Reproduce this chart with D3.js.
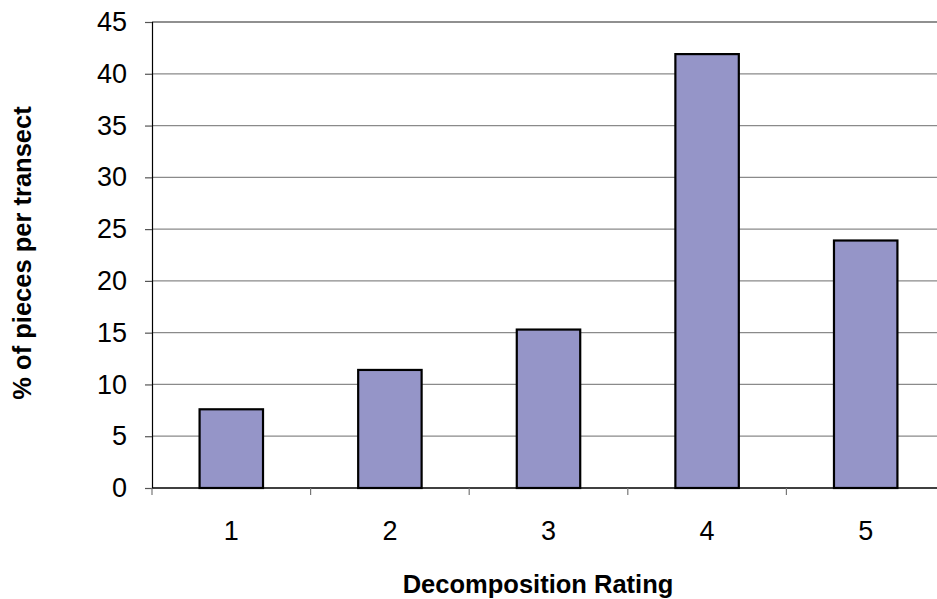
<!DOCTYPE html>
<html>
<head>
<meta charset="utf-8">
<script src="https://cdn.jsdelivr.net/npm/d3@7/dist/d3.min.js"></script>
<style>
  html, body { margin: 0; padding: 0; background: #fff; }
  svg { display: block; }
  text { font-family: "Liberation Sans", Arial, sans-serif; fill: #000; }
</style>
</head>
<body>
<svg id="chart" width="937" height="599"></svg>
<script>
// Decomposition rating categories and share of pieces per transect (%)
const categories = ["1", "2", "3", "4", "5"];
const values = [7.6, 11.4, 15.3, 41.9, 23.9];
const yTicks = [0, 5, 10, 15, 20, 25, 30, 35, 40, 45];

const svg = d3.select("#chart");
const margin = { left: 152, top: 22, right: -8, bottom: 111 };
const W = 937, H = 599;
const x0 = margin.left, x1 = W - margin.right;
const y0 = H - margin.bottom, y1 = margin.top;
const tickFont = "27px";
const titleFont = "25.5px";

const x = d3.scaleBand().domain(categories).range([x0, x1]).paddingInner(0.6).paddingOuter(0.3);
const xEdges = d3.scaleLinear().domain([0, categories.length]).range([x0, x1]);
const y = d3.scaleLinear().domain([0, 45]).range([y0, y1]);

// horizontal gridlines
svg.append("g")
  .selectAll("line")
  .data(yTicks.filter(t => t > 0))
  .join("line")
  .attr("x1", x0).attr("x2", x1)
  .attr("y1", d => y(d)).attr("y2", d => y(d))
  .attr("stroke", d => d === 45 ? "#222" : "#8a8a8a")
  .attr("stroke-width", 1.2);

// bars
svg.append("g")
  .selectAll("rect")
  .data(values)
  .join("rect")
  .attr("x", (d, i) => x(categories[i]))
  .attr("y", d => y(d))
  .attr("width", x.bandwidth())
  .attr("height", d => y(0) - y(d))
  .attr("fill", "#9595c8")
  .attr("stroke", "#000")
  .attr("stroke-width", 2.2);

// y axis
const yAxis = svg.append("g")
  .attr("transform", `translate(${x0},0)`)
  .call(d3.axisLeft(y).tickValues(yTicks).tickSize(7).tickPadding(18));
yAxis.select(".domain").attr("stroke", "#000").attr("stroke-width", 1.2);
yAxis.selectAll(".tick line").attr("stroke", "#555").attr("stroke-width", 1.2);
yAxis.selectAll(".tick text")
  .style("font-size", tickFont)
  .style("font-family", "'Liberation Sans', Arial, sans-serif");

// x axis baseline, category separators and labels
svg.append("line")
  .attr("x1", x0).attr("x2", x1)
  .attr("y1", y0).attr("y2", y0)
  .attr("stroke", "#000").attr("stroke-width", 1.5);

svg.append("g")
  .selectAll("line")
  .data(d3.range(categories.length + 1))
  .join("line")
  .attr("x1", d => xEdges(d)).attr("x2", d => xEdges(d))
  .attr("y1", y0).attr("y2", y0 + 7)
  .attr("stroke", "#777").attr("stroke-width", 1.2);

svg.append("g")
  .selectAll("text")
  .data(categories)
  .join("text")
  .attr("x", d => x(d) + x.bandwidth() / 2)
  .attr("y", y0 + 52)
  .attr("text-anchor", "middle")
  .style("font-size", tickFont)
  .text(d => d);

// axis titles
svg.append("text")
  .attr("x", 538)
  .attr("y", 593)
  .attr("text-anchor", "middle")
  .style("font-size", titleFont)
  .style("font-weight", "bold")
  .text("Decomposition Rating");

svg.append("text")
  .attr("transform", `translate(31,253) rotate(-90)`)
  .attr("text-anchor", "middle")
  .style("font-size", titleFont)
  .style("font-weight", "bold")
  .text("% of pieces per transect");
</script>
</body>
</html>
